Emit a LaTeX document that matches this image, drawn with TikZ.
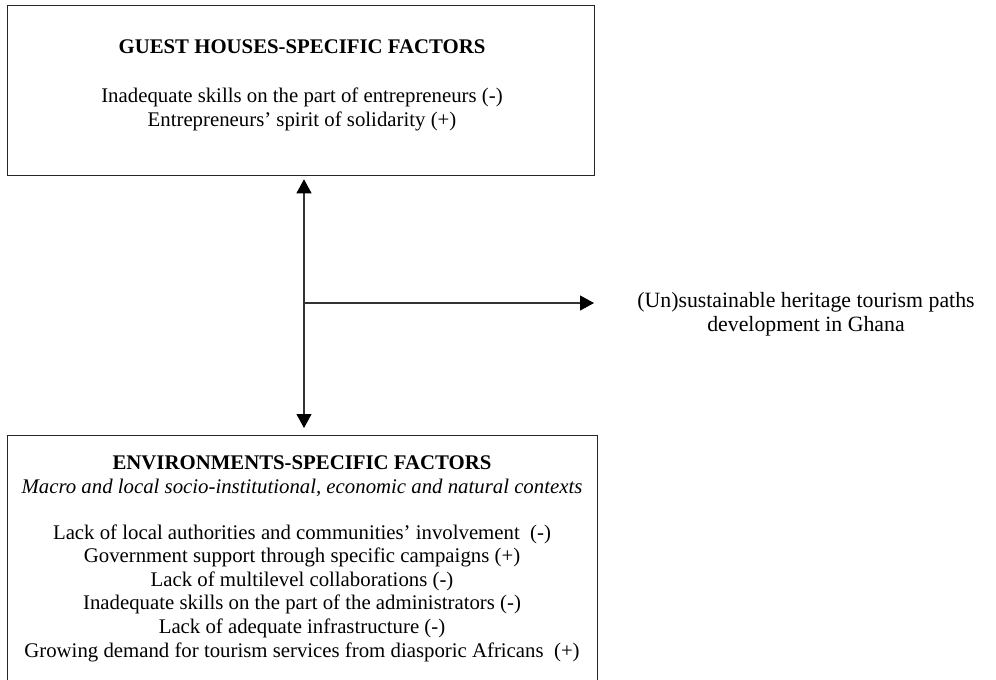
\documentclass[tikz,border=0pt]{standalone}
\usepackage{fontspec}
\setmainfont{Liberation Serif}
\usetikzlibrary{arrows.meta}
\begin{document}
\begin{tikzpicture}[x=1pt,y=-1pt,
  boxframe/.style={draw, line width=1.3pt, color=black!85, inner sep=0pt},
  txt/.style={align=center, font=\fontsize{20.8}{23.6}\selectfont, inner sep=0pt, anchor=base},
  conn/.style={line width=1.1pt, color=black!80, -{Triangle[width=15pt,length=14pt,color=black]}}
]
\useasboundingbox (0,0) rectangle (996,680);
\begin{scope}
\clip (0,0) rectangle (996,680);
\node[boxframe, minimum width=587pt, minimum height=170pt, anchor=north west] (gh) at (7,5) {};
\node[boxframe, minimum width=590pt, minimum height=260pt, anchor=north west] (env) at (7,435) {};
\end{scope}
\node[txt] (ghtitle) at (302,53) {\textbf{GUEST HOUSES-SPECIFIC FACTORS}};
\node[txt] (ghlist) at (302,126) {Inadequate skills on the part of entrepreneurs (-)\\Entrepreneurs’ spirit of solidarity (+)};
\node[txt] (envtitle) at (302,493) {\textbf{ENVIRONMENTS-SPECIFIC FACTORS}\\\textit{Macro and local socio-institutional, economic and natural contexts}};
\node[txt] (envlist) at (302,657) {Lack of local authorities and communities’ involvement\ \ (-)\\Government support through specific campaigns (+)\\Lack of multilevel collaborations (-)\\Inadequate skills on the part of the administrators (-)\\Lack of adequate infrastructure (-)\\Growing demand for tourism services from diasporic Africans\ \ (+)};
\node[txt, font=\fontsize{21.8}{23.6}\selectfont] (outcome) at (806,331) {(Un)sustainable heritage tourism paths\\development in Ghana};
\coordinate (j) at (304,303);
\coordinate (tipr) at (594,303);
\draw[conn] (j) -- (j |- gh.south) [shorten >=3pt];
\draw[conn] (j) -- (j |- env.north) [shorten >=7pt];
\draw[conn] (j) -- (tipr);
\end{tikzpicture}
\end{document}
